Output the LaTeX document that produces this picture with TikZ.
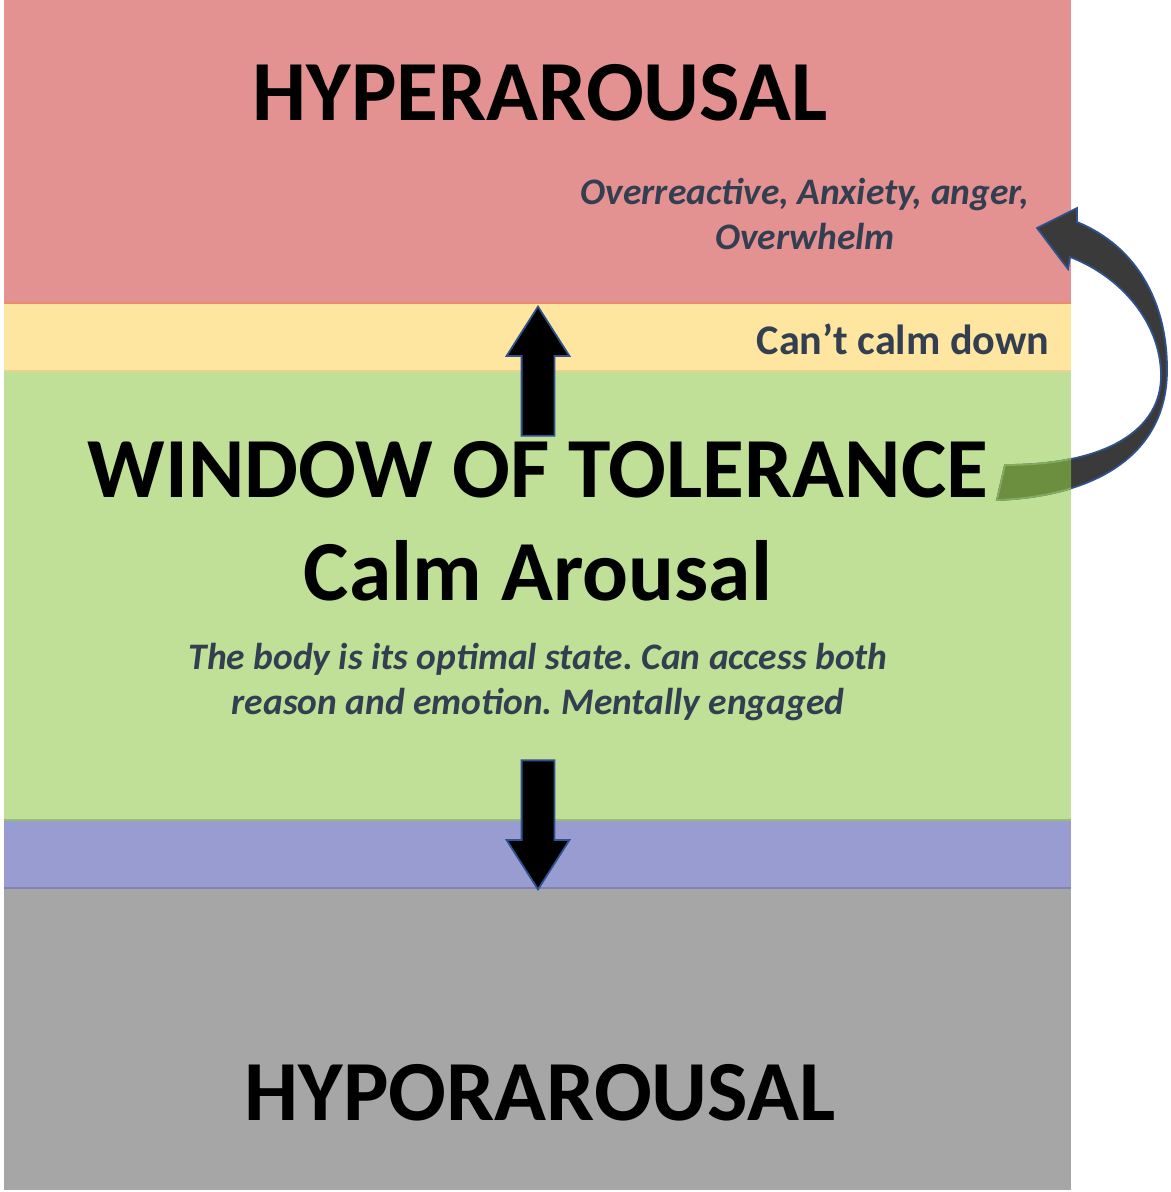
\documentclass[tikz,border=0pt]{standalone}
\usepackage{fontspec}
\setmainfont{Carlito}
\frenchspacing
\usetikzlibrary{positioning, shapes.arrows}
\definecolor{hyperbg}{RGB}{227, 145, 145}
\definecolor{hyperline}{RGB}{236, 140, 110}
\definecolor{alertbg}{RGB}{255, 230, 160}
\definecolor{alertline}{RGB}{232, 210, 140}
\definecolor{windowbg}{RGB}{191, 224, 150}
\definecolor{windowline}{RGB}{150, 190, 115}
\definecolor{numbbg}{RGB}{152, 156, 208}
\definecolor{numbline}{RGB}{128, 131, 180}
\definecolor{hypobg}{RGB}{166, 166, 166}
\definecolor{slatetext}{RGB}{51, 63, 80}
\definecolor{arrowline}{RGB}{47, 82, 143}
\definecolor{loopfill}{RGB}{58, 58, 58}
\definecolor{loopolive}{RGB}{107, 142, 63}

\begin{document}
\begin{tikzpicture}[x=0.2mm, y=-0.2mm,
    band/.style={minimum width=21.34cm, inner sep=0pt, outer sep=0pt},
    bigtitle/.style={font=\fontsize{48.7}{56}\selectfont\bfseries, text=black, inner sep=0pt},
    remark/.style={font=\fontsize{21.3}{25.6}\selectfont\bfseries\itshape, text=slatetext, align=center, inner sep=0pt},
    shiftarrow/.style={single arrow, draw=arrowline, fill=black, line width=1pt, minimum height=2.58cm, minimum width=1.22cm, single arrow head extend=0.3cm, single arrow tip angle=65, inner xsep=0pt, inner ysep=0.31cm}]
    \useasboundingbox (0,0) rectangle (1171,1192);

    % the five zones
    \node[band, fill=hyperbg, minimum height=6.06cm] (hyper) at (537.5,151.5) {};
    \node[band, fill=alertbg, minimum height=1.36cm] (alert) at (537.5,337) {};
    \node[band, fill=windowbg, minimum height=8.98cm] (window) at (537.5,595.5) {};
    \node[band, fill=numbbg, minimum height=1.36cm] (numb) at (537.5,854) {};
    \node[band, fill=hypobg, minimum height=6.04cm] (hypo) at (537.5,1039) {};
    \draw[hyperline, line width=0.8pt] (hyper.south west) -- (hyper.south east);
    \draw[alertline, line width=0.8pt] (alert.south west) -- (alert.south east);
    \draw[windowline, line width=0.8pt] (window.south west) -- (window.south east);
    \draw[numbline, line width=0.8pt] (numb.south west) -- (numb.south east);

    % loop back up
    \draw[arrowline, fill=loopfill, line width=1pt]
        (1005,465) .. controls (1110,465) and (1161,428) .. (1161,376)
        .. controls (1161,322) and (1120,276) .. (1070,257)
        -- (1068,269) -- (1037,228) -- (1077,208) -- (1077,222)
        .. controls (1136,246) and (1168,302) .. (1167,372)
        .. controls (1166,452) and (1100,496) .. (997,500) -- cycle;
    \begin{scope}
        \clip (window.north west) rectangle (window.south east);
        \draw[windowline!60!loopolive, fill=loopolive, line width=1pt]
            (1005,465) .. controls (1110,465) and (1161,428) .. (1161,376)
            .. controls (1161,322) and (1120,276) .. (1070,257)
            -- (1068,269) -- (1037,228) -- (1077,208) -- (1077,222)
            .. controls (1136,246) and (1168,302) .. (1167,372)
            .. controls (1166,452) and (1100,496) .. (997,500) -- cycle;
    \end{scope}

    % shifts out of the window
    \node[shiftarrow, rotate=90, anchor=tip] (upshift) at (538,305) {};
    \node[shiftarrow, rotate=-90, anchor=tip] (downshift) at (538,891) {};

    % labels
    \node[bigtitle] (hypertitle) at (540,93) {HYPERAROUSAL};
    \node[remark] (hypernote) at (805,214) {Overreactive, Anxiety, anger,\\Overwhelm};
    \node[font=\fontsize{24}{28}\selectfont\bfseries, text=slatetext, inner sep=0pt] (alertnote) at (903,339) {Can’t calm down};
    \node[bigtitle] (windowtitle) at (538,470) {WINDOW OF TOLERANCE};
    \node[bigtitle] (windowsub) at (538,571) {Calm Arousal};
    \node[remark] (windownote) at (538,682) {The body is its optimal state. Can access both\\reason and emotion. Mentally engaged};
    \node[bigtitle] (hypotitle) at (540,1093) {HYPORAROUSAL};
\end{tikzpicture}
\end{document}
